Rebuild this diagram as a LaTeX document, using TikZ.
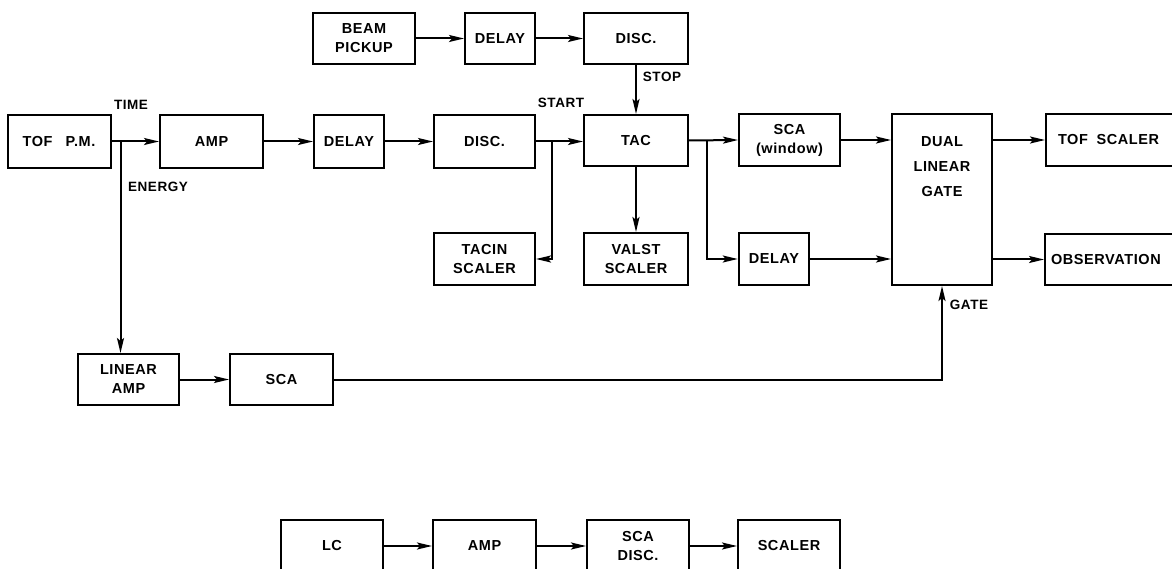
\documentclass[tikz,border=0pt]{standalone}
\usepackage{fontspec}
\setmainfont{Liberation Sans}[LetterSpace=4]
\usetikzlibrary{arrows.meta,calc}
\begin{document}
\begin{tikzpicture}[x=1pt,y=-1pt,
  box/.style={draw, line width=2pt, inner sep=0pt, align=center,
    font=\fontsize{14.5}{19}\selectfont\bfseries},
  arr/.style={line width=2pt, -{Stealth[length=15pt,width=7pt,inset=3pt]}},
  lbl/.style={font=\fontsize{13.5}{16}\selectfont\bfseries, inner sep=0pt}]
\useasboundingbox (0,0) rectangle (1172,569);
\clip (0,0) rectangle (1172,569);
% top row
\node[box, minimum width=102, minimum height=51] (bp) at (364,38.5) {BEAM\\PICKUP};
\node[box, minimum width=70, minimum height=51] (dl1) at (500,38.5) {DELAY};
\node[box, minimum width=104, minimum height=51] (dsc1) at (636,38.5) {DISC.};
% main row
\node[box, minimum width=103, minimum height=53] (tof) at (59,141.5) {TOF\hspace{0.9em}P.M.};
\node[box, minimum width=103, minimum height=53] (amp) at (211.5,141.5) {AMP};
\node[box, minimum width=70, minimum height=53] (dl2) at (349,141.5) {DELAY};
\node[box, minimum width=101, minimum height=53] (dsc2) at (484.5,141.5) {DISC.};
\node[box, minimum width=104, minimum height=51] (tac) at (636,140.5) {TAC};
\node[box, minimum width=101, minimum height=52] (tacin) at (484.5,259) {TACIN\\SCALER};
\node[box, minimum width=104, minimum height=52] (valst) at (636,259) {VALST\\SCALER};
\node[box, minimum width=101, minimum height=52] (sca1) at (789.5,140) {SCA\\(window)};
\node[box, minimum width=70.5, minimum height=52] (dl3) at (774,259) {DELAY};
\node[box, minimum width=100, minimum height=171] (dlg) at (942,199.5) {};
\node[box, draw=none, font=\fontsize{14.5}{25}\selectfont\bfseries] (dlgt) at (942,167) {DUAL\\LINEAR\\GATE};
\node[box, anchor=west, minimum height=52, inner xsep=12pt, text width=176pt, align=left] (tofs) at (1045,140) {TOF\hspace{0.6em}SCALER};
\node[box, anchor=west, minimum height=51, inner xsep=6pt, text width=188pt, align=left] (obs) at (1044,259.5) {OBSERVATION};
\node[box, minimum width=101, minimum height=51] (lamp) at (128.5,379.5) {LINEAR\\AMP};
\node[box, minimum width=103, minimum height=51] (sca2) at (281.5,379.5) {SCA};
% bottom row
\node[box, minimum width=102, minimum height=52] (lc) at (332,546) {LC};
\node[box, minimum width=103, minimum height=52] (amp2) at (484.5,546) {AMP};
\node[box, minimum width=102, minimum height=52] (scad) at (638,546) {SCA\\DISC.};
\node[box, minimum width=102, minimum height=52] (scl) at (789,546) {SCALER};
% junctions
\coordinate (j1) at (120.5,141.5);
\coordinate (j2) at (552,141.5);
\coordinate (j3) at (706.5,140);
% connectors
\draw[arr] (bp) -- (dl1);
\draw[arr] (dl1) -- (dsc1);
\draw[arr] (dsc1) -- (tac);
\draw[arr] (tof) -- (amp);
\draw[arr] (amp) -- (dl2);
\draw[arr] (dl2) -- (dsc2);
\draw[arr] (dsc2.east) -- (dsc2.east -| tac.west);
\draw[arr] (j1) -- (j1 |- lamp.north);
\draw[arr] (j2) |- (tacin.east);
\draw[arr] (tac) -- (valst);
\draw[arr] (tac.east) -- (sca1.west);
\draw[arr] (j3) |- (dl3.west);
\draw[arr] (sca1.east) -- (sca1.east -| dlg.west);
\draw[arr] (dl3.east) -- (dl3.east -| dlg.west);
\draw[arr] (dlg.east |- tofs.west) -- (tofs.west);
\draw[arr] (dlg.east |- obs.west) -- (obs.west);
\draw[arr] (lamp) -- (sca2);
\draw[arr] (sca2.east) -| (dlg.south);
\draw[arr] (lc) -- (amp2);
\draw[arr] (amp2) -- (scad);
\draw[arr] (scad) -- (scl);
% labels
\node[lbl] (ltime) at (131,105) {TIME};
\node[lbl] (lenergy) at (158,187) {ENERGY};
\node[lbl] (lstart) at (561,103) {START};
\node[lbl] (lstop) at (662,77) {STOP};
\node[lbl] (lgate) at (969,305) {GATE};
\end{tikzpicture}
\end{document}
